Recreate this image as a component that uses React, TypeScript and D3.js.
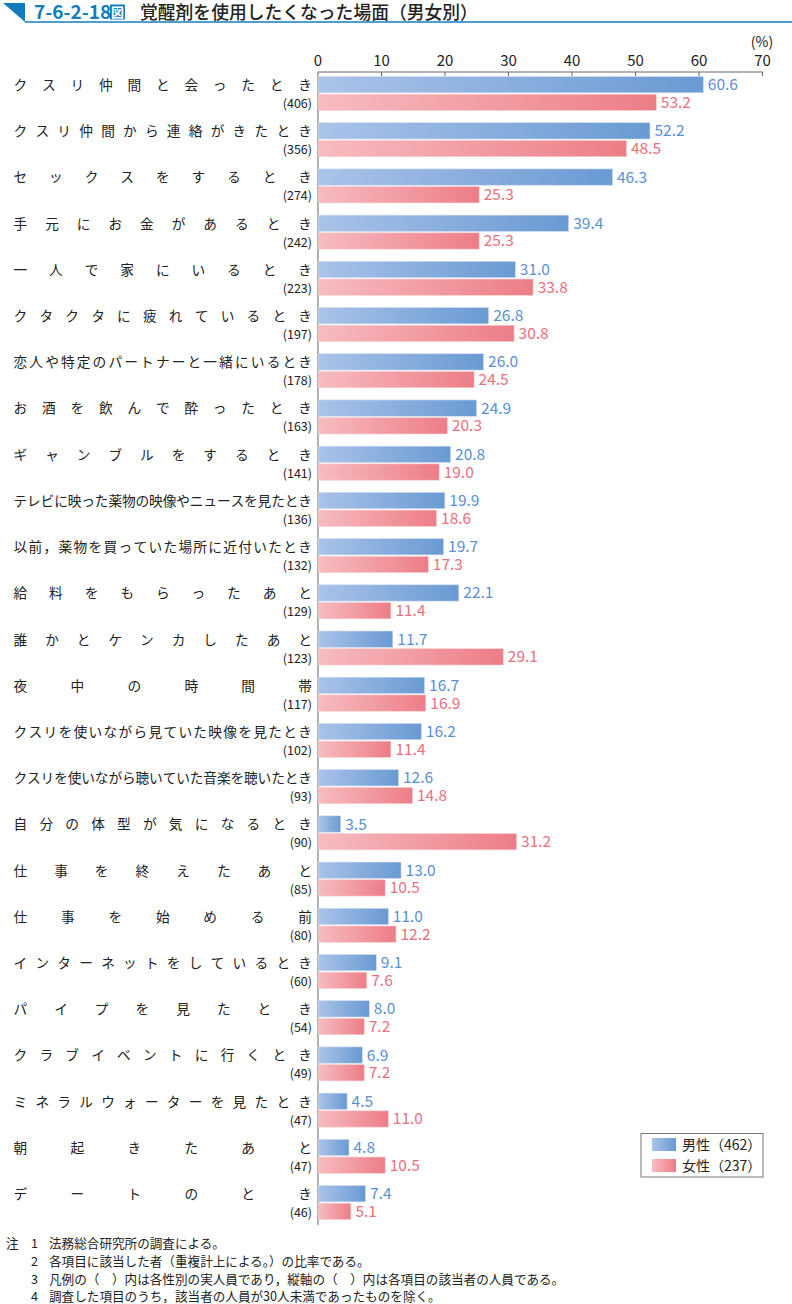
import React from "react";
import * as d3 from "d3";

const categories = [
  "クスリ仲間と会ったとき",
  "クスリ仲間から連絡がきたとき",
  "セックスをするとき",
  "手元にお金があるとき",
  "一人で家にいるとき",
  "クタクタに疲れているとき",
  "恋人や特定のパートナーと一緒にいるとき",
  "お酒を飲んで酔ったとき",
  "ギャンブルをするとき",
  "テレビに映った薬物の映像やニュースを見たとき",
  "以前，薬物を買っていた場所に近付いたとき",
  "給料をもらったあと",
  "誰かとケンカしたあと",
  "夜中の時間帯",
  "クスリを使いながら見ていた映像を見たとき",
  "クスリを使いながら聴いていた音楽を聴いたとき",
  "自分の体型が気になるとき",
  "仕事を終えたあと",
  "仕事を始める前",
  "インターネットをしているとき",
  "パイプを見たとき",
  "クラブイベントに行くとき",
  "ミネラルウォーターを見たとき",
  "朝起きたあと",
  "デートのとき",
];
const counts = [406, 356, 274, 242, 223, 197, 178, 163, 141, 136, 132, 129, 123, 117, 102, 93, 90, 85, 80, 60, 54, 49, 47, 47, 46];
const male = [60.6, 52.2, 46.3, 39.4, 31.0, 26.8, 26.0, 24.9, 20.8, 19.9, 19.7, 22.1, 11.7, 16.7, 16.2, 12.6, 3.5, 13.0, 11.0, 9.1, 8.0, 6.9, 4.5, 4.8, 7.4];
const female = [53.2, 48.5, 25.3, 25.3, 33.8, 30.8, 24.5, 20.3, 19.0, 18.6, 17.3, 11.4, 29.1, 16.9, 11.4, 14.8, 31.2, 10.5, 12.2, 7.6, 7.2, 7.2, 11.0, 10.5, 5.1];
const ticks = [0, 10, 20, 30, 40, 50, 60, 70];
const legendLabels = ["男性（462）", "女性（237）"];
const notes = [
  ["注", "1", "法務総合研究所の調査による。"],
  ["", "2", "各項目に該当した者（重複計上による。）の比率である。"],
  ["", "3", "凡例の（　）内は各性別の実人員であり，縦軸の（　）内は各項目の該当者の人員である。"],
  ["", "4", "調査した項目のうち，該当者の人員が30人未満であったものを除く。"],
];
const title = "覚醒剤を使用したくなった場面（男女別）";

const FONT = "'Noto Sans CJK JP', 'Noto Sans', sans-serif";
const BLUE = "#5a8fd6";
const PINK = "#ec6f7c";
const TITLE_BLUE = "#127cbd";

export default function App() {
  const x = d3.scaleLinear().domain([0, 70]).range([318, 762.5]);
  const y = d3.scaleBand<string>().domain(categories).range([73.5, 73.5 + 25 * 46.21]).padding(0);
  const fs = 13.7;
  const labelLeft = 13.5;
  const labelRight = 312;

  return (
    <div style={{ position: "absolute", left: 0, top: 0 }}>
      <svg width={792} height={1304} style={{ display: "block", fontFamily: FONT }}>
        <defs>
          <linearGradient id="gb" x1="0" x2="1" y1="0" y2="0">
            <stop offset="0" stopColor="#aac3e9" />
            <stop offset="1" stopColor="#699ad3" />
          </linearGradient>
          <linearGradient id="gp" x1="0" x2="1" y1="0" y2="0">
            <stop offset="0" stopColor="#f7bcc0" />
            <stop offset="1" stopColor="#ed7d87" />
          </linearGradient>
        </defs>
        <rect width={792} height={1304} fill="#fff" />
        {/* header */}
        <path d="M3,3 L25,3 L25,22 Z" fill={TITLE_BLUE} />
        <line x1={25} x2={792} y1={22} y2={22} stroke={TITLE_BLUE} strokeWidth={1.5} />
        <text x={34} y={19} fontSize={19} fontWeight={700} fill={TITLE_BLUE}>7-6-2-18</text>
        <rect x={110} y={4.5} width={15} height={15} fill={TITLE_BLUE} />
        <text x={117.5} y={17} fontSize={13} fontWeight={700} fill="#fff" textAnchor="middle">図</text>
        <text x={140} y={19} fontSize={17.8} fontWeight={500} fill="#222">{title}</text>

        {/* axis */}
        <text x={762} y={47} fontSize={14} textAnchor="middle" fill="#222">(%)</text>
        {ticks.map((t) => (
          <g key={t}>
            <text x={x(t)} y={66} fontSize={15} textAnchor="middle" fill="#222">{t}</text>
            <line x1={x(t)} x2={x(t)} y1={72} y2={t === 0 ? 72 : 76} stroke="#666" strokeWidth={1} />
          </g>
        ))}
        <line x1={x(0)} x2={x(70)} y1={72} y2={72} stroke="#666" strokeWidth={1} />
        <line x1={x(0)} x2={x(0)} y1={72} y2={1225} stroke="#666" strokeWidth={1} />

        {categories.map((c, i) => {
          const y0 = y(c)!;
          const chars = Array.from(c);
          const n = chars.length;
          const step = n > 1 ? (labelRight - labelLeft - fs) / (n - 1) : 0;
          const by = y0 + 3;
          const py = y0 + 20.7;
          const bh = 16.3;
          return (
            <g key={c}>
              {chars.map((ch, j) => (
                <text key={j} x={labelLeft + j * step} y={y0 + 16.5} fontSize={fs} fill="#222">{ch}</text>
              ))}
              <text x={labelRight} y={y0 + 34.5} fontSize={12.5} textAnchor="end" fill="#222">({counts[i]})</text>
              <rect x={x(0) + 0.5} y={by} width={x(male[i]) - x(0)} height={bh} fill="url(#gb)" stroke="#cfdcf2" strokeWidth={0.6} />
              <rect x={x(0) + 0.5} y={py} width={x(female[i]) - x(0)} height={bh} fill="url(#gp)" stroke="#f7d0d3" strokeWidth={0.6} />
              <text x={x(male[i]) + 5} y={by + bh / 2 + 5.5} fontSize={15.5} fill={BLUE}>{male[i].toFixed(1)}</text>
              <text x={x(female[i]) + 5} y={py + bh / 2 + 5.5} fontSize={15.5} fill={PINK}>{female[i].toFixed(1)}</text>
            </g>
          );
        })}

        {/* legend */}
        <rect x={641} y={1133.5} width={122} height={43.5} fill="#fff" stroke="#777" strokeWidth={1} />
        <rect x={652} y={1138} width={24} height={13} fill="url(#gb)" />
        <rect x={652} y={1159} width={24} height={13} fill="url(#gp)" />
        <text x={682} y={1150} fontSize={14} fill="#222">{legendLabels[0]}</text>
        <text x={682} y={1171} fontSize={14} fill="#222">{legendLabels[1]}</text>

        {/* notes */}
        {notes.map((r, i) => (
          <g key={i} fontSize={12.6} fill="#222">
            <text x={6} y={1248 + i * 17.8}>{r[0]}</text>
            <text x={31} y={1248 + i * 17.8}>{r[1]}</text>
            <text x={49} y={1248 + i * 17.8}>{r[2]}</text>
          </g>
        ))}
      </svg>
    </div>
  );
}
